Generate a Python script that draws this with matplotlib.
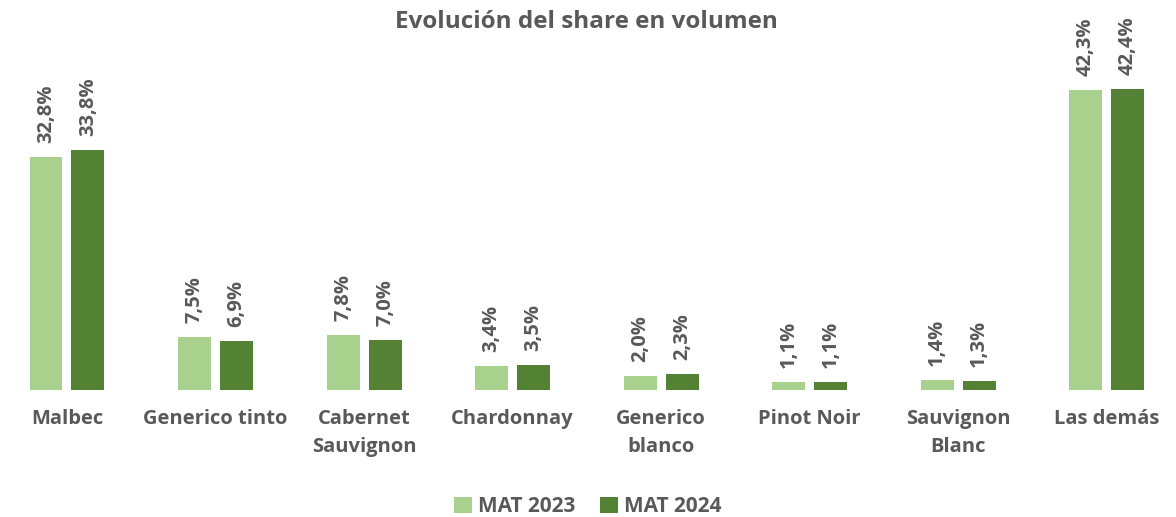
import numpy as np
import matplotlib
matplotlib.use("Agg")
import matplotlib.pyplot as plt

# data
categories = ["Malbec", "Generico tinto", "Cabernet\nSauvignon", "Chardonnay",
              "Generico\nblanco", "Pinot Noir", "Sauvignon\nBlanc", "Las demás"]
mat_2023 = [32.8, 7.5, 7.8, 3.4, 2.0, 1.1, 1.4, 42.3]
mat_2024 = [33.8, 6.9, 7.0, 3.5, 2.3, 1.1, 1.3, 42.4]
series_names = ["MAT 2023", "MAT 2024"]

light = "#A9D18E"
dark = "#548235"
gray = "#595959"

plt.rcParams["font.family"] = ["Open Sans", "DejaVu Sans"]

fig = plt.figure(figsize=(11.76, 5.17), dpi=100)
ax = fig.add_axes([0, 0.2456, 1, 0.677])

x = np.arange(len(categories))
w = 0.222
off = 0.1413

b1 = ax.bar(x - off, mat_2023, w, color=light, label=series_names[0])
b2 = ax.bar(x + off, mat_2024, w, color=dark, label=series_names[1])

# value labels, rotated like the original
for bars, vals in [(b1, mat_2023), (b2, mat_2024)]:
    for rect, v in zip(bars, vals):
        ax.annotate(f"{v:.1f}%".replace(".", ","),
                    (rect.get_x() + rect.get_width() / 2, rect.get_height()),
                    xytext=(0, 10), textcoords="offset points",
                    rotation=90, ha="center", va="bottom",
                    fontsize=14.5, fontweight="bold", color=gray)

ax.set_xlim(-0.451, 7.466)
ax.set_ylim(0, 49.3)
ax.set_xticks(x)
ax.set_xticklabels(categories, fontsize=14.5, fontweight="bold", color=gray,
                   linespacing=1.5)
ax.tick_params(axis="x", length=0, pad=14)
ax.set_yticks([])
for s in ax.spines.values():
    s.set_visible(False)

fig.text(0.499, 0.958, "Evolución del share en volumen", ha="center", va="center",
         fontsize=17.5, fontweight="bold", color=gray)

leg = fig.legend(handles=[b1, b2], loc="center", bbox_to_anchor=(0.5, 0.02),
                 ncol=2, frameon=False, handlelength=0.85, handleheight=0.85,
                 handletextpad=0.3, columnspacing=1.2,
                 prop={"size": 15, "weight": "bold"})
for t in leg.get_texts():
    t.set_color(gray)

fig.savefig("out.png", dpi=100)
